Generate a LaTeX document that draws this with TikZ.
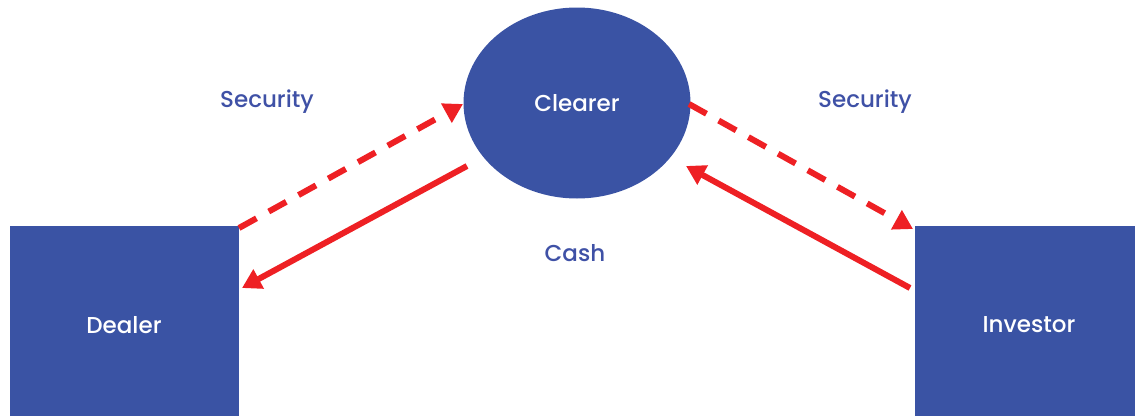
\documentclass[tikz,border=0pt]{standalone}
\usepackage{fontspec}
\setmainfont{Poppins}[BoldFont={Poppins Medium}]
\usetikzlibrary{arrows.meta,shapes.geometric}
\definecolor{boxblue}{HTML}{3A53A4}
\definecolor{txtblue}{HTML}{3F51A6}
\definecolor{arrred}{HTML}{EE2024}
\tikzset{
  party/.style={fill=boxblue,draw=none,text=white,font=\bfseries\fontsize{23}{27}\selectfont},
  lbl/.style={text=txtblue,font=\bfseries\fontsize{23}{27}\selectfont},
  flow/.style={draw=arrred,line width=6pt,-{Triangle[length=19pt,width=21pt]}},
  dashflow/.style={flow,dash pattern=on 20pt off 14pt},
}
\begin{document}
\begin{tikzpicture}[x=1pt,y=-1pt]
\useasboundingbox (0,0) rectangle (1135,415);
\fill[boxblue] (10,226) rectangle (239,420);
\fill[boxblue] (915,226) rectangle (1140,420);
\node[party] (dealer) at (124,325) {Dealer};
\node[party] (investor) at (1029,325) {Investor};
\node[party,ellipse,minimum width=227pt,minimum height=191pt,inner sep=0pt] (clearer) at (577,103) {Clearer};
\coordinate (dtop) at (239,228);
\coordinate (dside) at (242,288);
\coordinate (itop) at (913,229);
\coordinate (iside) at (910,288);
\coordinate (cl1) at (463,104);
\coordinate (cl2) at (467,166);
\coordinate (cr1) at (689,104);
\coordinate (cr2) at (686,166);
\node[lbl] (secL) at (267,102) {Security};
\node[lbl] (secR) at (865,102) {Security};
\node[lbl] (cash) at (575,253) {Cash};
\draw[dashflow] (dtop) -- (cl1);
\draw[flow] (cl2) -- (dside);
\draw[dashflow] (cr1) -- (itop);
\draw[flow] (iside) -- (cr2);
\end{tikzpicture}
\end{document}
